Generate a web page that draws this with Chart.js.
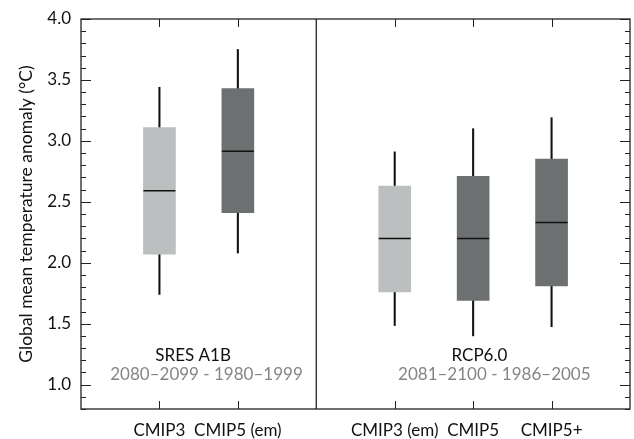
<!DOCTYPE html>
<html>
<head>
<meta charset="utf-8">
<script src="https://cdn.jsdelivr.net/npm/chart.js@4/dist/chart.umd.min.js"></script>
<style>
  html, body { margin: 0; padding: 0; background: #fff; }
  #wrap { width: 634px; height: 439px; }
</style>
</head>
<body>
<div id="wrap"><canvas id="c" width="634" height="439"></canvas></div>
<script>
// categories along x (blank slots are the axis ends and the divider)
const categories = ['', 'CMIP3', 'CMIP5 (em)', '', 'CMIP3 (em)', 'CMIP5', 'CMIP5+', ''];
const whiskerLow  = [null, 1.74, 2.08, null, 1.485, 1.40, 1.475, null];
const boxLow      = [null, 2.07, 2.41, null, 1.76, 1.69, 1.81, null];
const medians     = [null, 2.59, 2.915, null, 2.20, 2.20, 2.33, null];
const boxHigh     = [null, 3.11, 3.43, null, 2.63, 2.71, 2.85, null];
const whiskerHigh = [null, 3.44, 3.75, null, 2.91, 3.10, 3.19, null];
const yTickValues = [1.0, 1.5, 2.0, 2.5, 3.0, 3.5, 4.0];

const LIGHT = '#bcbfbf';
const DARK = '#6d7070';
const boxColors = [null, LIGHT, DARK, null, LIGHT, DARK, DARK, null];
const FONT = 'Lato, "Open Sans", sans-serif';

// 박스 / 수염 범위
const whiskers = whiskerLow.map((v, i) => v == null ? null : [v, whiskerHigh[i]]);
const boxes = boxLow.map((v, i) => v == null ? null : [v, boxHigh[i]]);

// 테두리, 안쪽 눈금, 구분선, 주석 글자
const framePlugin = {
  id: 'frame',
  afterDraw(chart) {
    const ctx = chart.ctx;
    const a = chart.chartArea;
    const x = chart.scales.x;
    const y = chart.scales.y;
    ctx.save();
    ctx.strokeStyle = '#222';
    ctx.lineWidth = 1.3;
    ctx.strokeRect(a.left, a.top, a.right - a.left, a.bottom - a.top);

    // divider between the two scenarios
    const xd = x.getPixelForValue(3);
    ctx.beginPath();
    ctx.moveTo(xd, a.top);
    ctx.lineTo(xd, a.bottom);
    ctx.stroke();

    // y ticks, left and right, pointing in
    ctx.lineWidth = 1;
    for (let k = 8; k <= 40; k++) {
      const py = Math.round(y.getPixelForValue(k / 10)) + 0.5;
      const len = k % 5 === 0 ? 10 : 5;
      ctx.beginPath();
      ctx.moveTo(a.left, py);
      ctx.lineTo(a.left + len, py);
      ctx.moveTo(a.right, py);
      ctx.lineTo(a.right - len, py);
      ctx.stroke();
    }
    // x ticks, top and bottom
    categories.forEach((c, i) => {
      if (!c) return;
      const px = Math.round(x.getPixelForValue(i)) + 0.5;
      ctx.beginPath();
      ctx.moveTo(px, a.top);
      ctx.lineTo(px, a.top + 8);
      ctx.moveTo(px, a.bottom);
      ctx.lineTo(px, a.bottom - 8);
      ctx.stroke();
    });

    // scenario labels
    const px = (v) => a.left + (a.right - a.left) * v / 7;
    ctx.textAlign = 'center';
    ctx.textBaseline = 'middle';
    ctx.font = '17px ' + FONT;
    ctx.fillStyle = '#111';
    ctx.fillText('SRES A1B', px(1.43), y.getPixelForValue(1.24));
    ctx.fillText('RCP6.0', px(5.08), y.getPixelForValue(1.24));
    ctx.fillStyle = '#858585';
    ctx.fillText('2080–2099 - 1980–1999', px(1.6), y.getPixelForValue(1.085));
    ctx.fillText('2081–2100 - 1986–2005', px(5.27), y.getPixelForValue(1.085));
    ctx.restore();
  }
};

// 축 눈금은 플러그인에서 그리므로 투명 처리 (간격만 사용)
const hiddenGrid = (len) => ({
  display: true,
  color: 'transparent',
  drawOnChartArea: false,
  drawTicks: true,
  tickLength: len
});

new Chart(document.getElementById('c'), {
  type: 'bar',
  data: {
    labels: categories,
    datasets: [
      {
        label: 'whisker',
        data: whiskers,
        backgroundColor: '#111',
        barThickness: 1.4,
        grouped: false,
        order: 3
      },
      {
        label: 'box',
        data: boxes,
        backgroundColor: boxColors,
        borderWidth: 0,
        barThickness: 32,
        grouped: false,
        order: 2
      },
      {
        type: 'line',
        label: 'median',
        data: medians,
        showLine: false,
        pointStyle: 'line',
        pointRadius: 16,
        pointHoverRadius: 16,
        pointBorderWidth: 1.5,
        borderColor: '#111',
        order: 1
      }
    ]
  },
  options: {
    responsive: false,
    animation: false,
    events: [],
    layout: { autoPadding: false, padding: { left: 4, top: 19, right: 4, bottom: 0 } },
    plugins: { legend: { display: false }, tooltip: { enabled: false } },
    scales: {
      x: {
        offset: false,
        grid: hiddenGrid(11),
        border: { display: false },
        ticks: { color: '#111', font: { family: FONT, size: 17 }, padding: 0, maxRotation: 0, autoSkip: false },
        afterFit(s) { s.height = 30; }
      },
      y: {
        min: 0.8,
        max: 4.0,
        grid: hiddenGrid(10),
        border: { display: false },
        afterBuildTicks(s) { s.ticks = yTickValues.map(v => ({ value: v })); },
        ticks: {
          color: '#111',
          font: { family: FONT, size: 17 },
          padding: 0,
          callback: (v) => Number(v).toFixed(1)
        },
        title: {
          display: true,
          text: 'Global mean temperature anomaly (°C)',
          color: '#111',
          font: { family: FONT, size: 17.5 },
          padding: { top: 12, bottom: 0 }
        },
        afterFit(s) { s.width = 77; }
      }
    }
  },
  plugins: [framePlugin]
});
</script>
</body>
</html>
